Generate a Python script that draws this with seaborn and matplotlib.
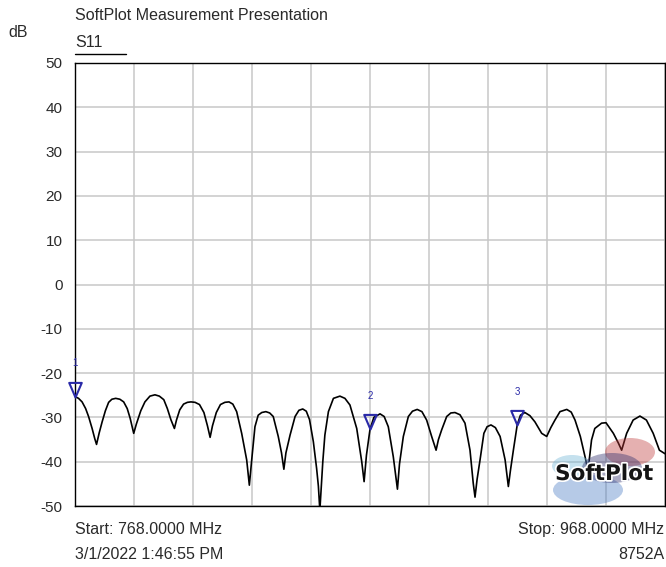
import numpy as np
import pandas as pd
import matplotlib
matplotlib.use("Agg")
import matplotlib.pyplot as plt
import matplotlib.patheffects as pe
from matplotlib.path import Path
from matplotlib.patches import Ellipse
import seaborn as sns

# S11 trace (MHz, dB)
freq_mhz = [
    768.0, 769.2, 770.4, 771.6, 772.6, 773.8, 774.7, 775.3,
    776.2, 777.2, 778.3, 779.4, 780.5, 781.8, 783.2, 784.5, 785.7, 786.7, 787.9,
    788.8, 790.3, 791.7, 793.4, 795.1, 796.6, 798.1, 799.3, 800.5, 801.7,
    802.4, 803.5, 804.8, 806.1, 807.3, 808.7, 810.2, 811.7, 812.9, 813.8,
    814.6, 815.9, 817.3, 818.8, 820.2, 821.5, 822.8, 824.5, 826.2, 827.1,
    827.9, 829.0, 830.1, 831.3, 832.7, 834.0, 835.2, 836.9, 838.0, 838.8,
    839.5, 840.9, 842.6, 843.9, 845.2, 846.4, 847.5, 848.8, 849.9, 850.5, 851.0,
    852.0, 852.7, 853.9, 855.6, 857.8, 859.5, 861.2, 863.5, 865.2, 866.0,
    866.8, 868.0, 869.3, 871.4, 872.8, 874.2, 875.9, 877.3,
    878.0, 879.3, 881.0, 882.4, 884.0, 885.6, 887.2, 888.9, 890.4,
    891.2, 892.3, 894.0, 895.4, 896.8, 898.5, 900.2, 901.9, 903.0, 903.6,
    904.3, 905.3, 906.6, 907.7, 909.0, 910.5, 912.1, 913.8, 914.9,
    915.6, 916.6, 917.9, 919.0, 920.5, 922.2, 923.9, 926.2, 927.9,
    929.3, 930.7, 932.4, 934.7, 936.2, 937.5, 939.3, 940.9, 941.9,
    943.1, 944.2, 946.5, 948.0, 950.5, 952.2, 953.3,
    955.0, 957.2, 959.5, 961.7, 964.0, 966.1, 968.0,
]
s11_db = [
    -25.3, -25.7, -26.5, -28.0, -29.8, -32.5, -34.8, -36.1,
    -33.5, -31.0, -28.5, -26.6, -25.9, -25.7, -25.9, -26.5, -28.0, -30.2, -33.6,
    -31.5, -28.5, -26.5, -25.2, -24.9, -25.2, -26.0, -28.0, -30.5, -32.5,
    -30.6, -28.3, -27.0, -26.6, -26.5, -26.6, -27.1, -28.9, -31.9, -34.5,
    -31.9, -28.9, -27.1, -26.6, -26.5, -27.0, -28.7, -33.6, -39.6, -45.3,
    -39.6, -32.1, -29.5, -28.9, -28.7, -29.0, -29.8, -34.3, -38.0, -41.7,
    -38.0, -34.0, -29.8, -28.4, -28.1, -28.6, -30.5, -35.5, -41.5, -45.5, -51.0,
    -40.0, -34.0, -28.7, -25.7, -25.2, -25.7, -27.2, -32.5, -40.0, -44.5,
    -38.5, -32.7, -30.0, -29.2, -29.8, -32.1, -38.9, -46.2,
    -40.5, -34.3, -29.8, -28.6, -28.2, -28.7, -30.6, -34.3, -37.4,
    -35.0, -32.8, -29.8, -29.0, -28.9, -29.4, -31.3, -37.4, -44.9, -48.0,
    -44.0, -39.6, -33.6, -32.1, -31.7, -32.3, -34.3, -39.6, -45.6,
    -42.0, -37.4, -31.7, -29.5, -28.9, -29.6, -31.0, -33.6, -34.3,
    -32.3, -30.6, -28.7, -28.2, -28.8, -30.6, -34.3, -38.9, -42.0,
    -35.1, -32.5, -31.3, -31.2, -33.6, -35.8, -37.4,
    -33.6, -30.6, -29.7, -30.6, -33.6, -37.4, -38.2,
]

marker_labels = ["1", "2", "3"]
marker_freq = [768.0, 868.0, 917.9]
marker_db = [-25.3, -32.7, -31.7]

y_ticks = list(range(-50, 51, 10))
x_grid = list(range(768, 969, 20))

df = pd.DataFrame({"freq": freq_mhz, "db": s11_db})

sns.set_style("white")
plt.rcParams["font.family"] = ["Liberation Sans", "DejaVu Sans"]

W, H = 666, 567
TXT = "#2a2a2a"
fig = plt.figure(figsize=(W / 100, H / 100), dpi=100)
ax = fig.add_axes([75 / W, 1 - 506 / H, 590 / W, 443 / H])

ax.set_xlim(768, 968)
ax.set_ylim(-50, 50)
ax.set_xticks(x_grid)
ax.set_yticks(y_ticks)
ax.set_xticklabels([])
ax.set_yticklabels([str(v) for v in y_ticks], fontsize=11, color=TXT)
ax.tick_params(length=0, pad=9)
ax.grid(True, color="#c8c8c8", linewidth=1.1)
ax.set_axisbelow(True)
for sp in ax.spines.values():
    sp.set_color("black")
    sp.set_linewidth(1.0)

sns.lineplot(data=df, x="freq", y="db", ax=ax, color="black", linewidth=1.2,
             sort=False, estimator=None)
ax.set_xlabel("")
ax.set_ylabel("")

# marker triangles (tip sits on the trace)
tri = Path([(0, 0), (-0.43, 1), (0.43, 1), (0, 0)],
           [Path.MOVETO, Path.LINETO, Path.LINETO, Path.CLOSEPOLY])
ax.plot(marker_freq, marker_db, linestyle="none", marker=tri, markersize=21,
        markerfacecolor="none", markeredgecolor="#2a2aa8", markeredgewidth=1.5,
        clip_on=False, zorder=5)
for lab, f, d in zip(marker_labels, marker_freq, marker_db):
    ax.annotate(lab, (f, d), xytext=(0, 24), textcoords="offset points",
                ha="center", va="center", fontsize=7, color="#2a2aa8",
                annotation_clip=False)

# logo in lower right
for (cx, cy, w, h, c) in [(588, 490, 70, 30, "#4a7cc4"), (630, 452, 50, 28, "#c03a3a"),
                          (572, 466, 40, 22, "#6fb4d6"), (612, 468, 60, 30, "#2c2c6a")]:
    ax.add_patch(Ellipse((cx / W, 1 - cy / H), w / W, h / H, transform=fig.transFigure,
                         color=c, alpha=0.4, lw=0, zorder=6))
fig.text(604 / W, 1 - 474 / H, "SoftPlot", ha="center", va="center", fontsize=15.5,
         fontweight="bold", family="DejaVu Sans", color="#141414", zorder=7,
         path_effects=[pe.withStroke(linewidth=2.5, foreground="white")])

# header / footer text
fig.text(75 / W, 1 - 20 / H, "SoftPlot Measurement Presentation", fontsize=11.5,
         color=TXT, va="baseline")
fig.text(8 / W, 1 - 37 / H, "dB", fontsize=11.5, color=TXT, va="baseline")
fig.text(75 / W, 1 - 47 / H, "S11", fontsize=11.5, color=TXT, va="baseline")
fig.add_artist(plt.Line2D([75 / W, 126 / W], [1 - 54 / H, 1 - 54 / H],
                          color="black", linewidth=1.0))
fig.text(75 / W, 1 - 534 / H, "Start: 768.0000 MHz", fontsize=11.5,
         color=TXT, va="baseline")
fig.text(75 / W, 1 - 559 / H, "3/1/2022 1:46:55 PM", fontsize=11.5,
         color=TXT, va="baseline")
fig.text(664 / W, 1 - 534 / H, "Stop: 968.0000 MHz", fontsize=11.5,
         color=TXT, va="baseline", ha="right")
fig.text(664 / W, 1 - 559 / H, "8752A", fontsize=11.5,
         color=TXT, va="baseline", ha="right")

fig.savefig("out.png", dpi=100)
